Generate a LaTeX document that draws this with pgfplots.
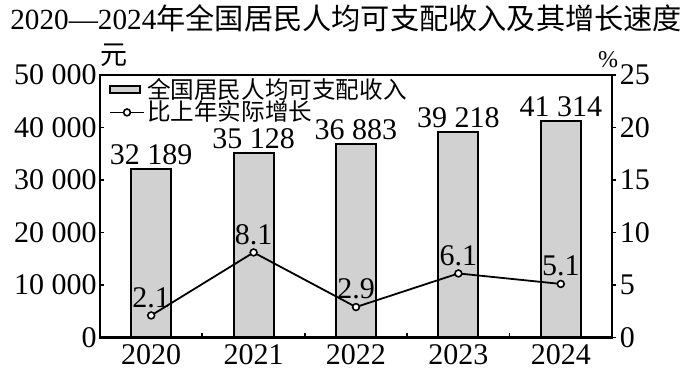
\documentclass[border=0pt]{standalone}
\usepackage{pgfplots}
\pgfplotsset{compat=1.18}
\usepackage{fontspec}
\setmainfont{Liberation Serif}
\newfontfamily\cjk{Noto Sans CJK SC}
\begin{document}
\begin{tikzpicture}
\useasboundingbox (-50pt,-17.75pt) rectangle (295pt,168.75pt);
\begin{axis}[
  at={(0,0)}, anchor=south west,
  scale only axis, width=256pt, height=131.25pt,
  xmin=-0.5, xmax=4.5, ymin=0, ymax=50000,
  scaled y ticks=false,
  axis line style={line width=1.1pt},
  ytick={0,10000,20000,30000,40000,50000},
  yticklabels={0,10\hspace{0.25em}000,20\hspace{0.25em}000,30\hspace{0.25em}000,40\hspace{0.25em}000,50\hspace{0.25em}000},
  ytick pos=left, xtick pos=bottom,
  tick align=inside, major tick length=2.2pt,
  xtick={0.5,1.5,2.5,3.5}, xticklabels={},
  extra x ticks={0,1,2,3,4},
  extra x tick labels={2020,2021,2022,2023,2024},
  extra x tick style={major tick length=0pt},
  tick style={line width=0.9pt, black},
  ticklabel style={font=\fontsize{15}{15}\selectfont},
  yticklabel style={inner sep=1.5pt},
  /pgf/number format/assume math mode=true,
  clip=false,
]
\addplot[ybar, bar width=0.39, fill=black!18, draw=black, line width=1pt,
  point meta=explicit symbolic,
  nodes near coords,
  nodes near coords style={font=\fontsize{15}{15}\selectfont, anchor=south, inner sep=1pt, yshift=0.5pt}]
  coordinates {
  (0,32189) [32\hspace{0.25em}189]
  (1,35128) [35\hspace{0.25em}128]
  (2,36883) [36\hspace{0.25em}883]
  (3,39218) [39\hspace{0.25em}218]
  (4,41314) [41\hspace{0.25em}314]
  };
\end{axis}
\begin{axis}[
  at={(0,0)}, anchor=south west,
  scale only axis, width=256pt, height=131.25pt,
  xmin=-0.5, xmax=4.5, ymin=0, ymax=25,
  axis x line=none, axis y line*=right,
  axis line style={line width=1.1pt},
  ytick={0,5,10,15,20,25},
  tick align=outside, major tick length=2.2pt,
  tick style={line width=0.9pt, black},
  ticklabel style={font=\fontsize{15}{15}\selectfont},
  yticklabel style={inner sep=1.5pt},
  /pgf/number format/assume math mode=true,
  legend style={at={(rel axis cs:0.005,1.012)}, anchor=north west, draw=none, fill=none,
    font=\cjk\fontsize{11.8}{11.8}\selectfont, row sep=-2.2pt, nodes={inner sep=1pt}},
  legend cell align=left,
  clip=false,
]
\addlegendimage{fill=black!18, draw=black, line width=1pt,
  legend image code/.code={\draw[fill=black!18, draw=black, line width=1pt] (0pt,-1.8pt) rectangle (15pt,1.8pt);}}
\addlegendentry{全国居民人均可支配收入}
\addplot[black, line width=0.9pt, mark=*, mark size=1.7pt,
  mark options={fill=white, draw=black, line width=0.8pt},
  point meta=explicit symbolic,
  nodes near coords,
  nodes near coords style={font=\fontsize{15}{15}\selectfont, anchor=south, inner sep=1pt, yshift=2.5pt}]
  coordinates {
  (0,2.1) [2.1]
  (1,8.1) [8.1]
  (2,2.9) [2.9]
  (3,6.1) [6.1]
  (4,5.1) [5.1]
  };
\addlegendentry{比上年实际增长}
\end{axis}
\node[font=\fontsize{14.6}{14.6}\selectfont, anchor=west, inner sep=0pt] at (-45pt,159.75pt) {2020—2024{\cjk 年全国居民人均可支配收入及其增长速度}};
\node[font=\cjk\fontsize{13.5}{13.5}\selectfont] at (7pt,141.25pt) {元};
\node[font=\fontsize{12}{12}\selectfont] at (254pt,138.75pt) {\%};
\end{tikzpicture}
\end{document}
